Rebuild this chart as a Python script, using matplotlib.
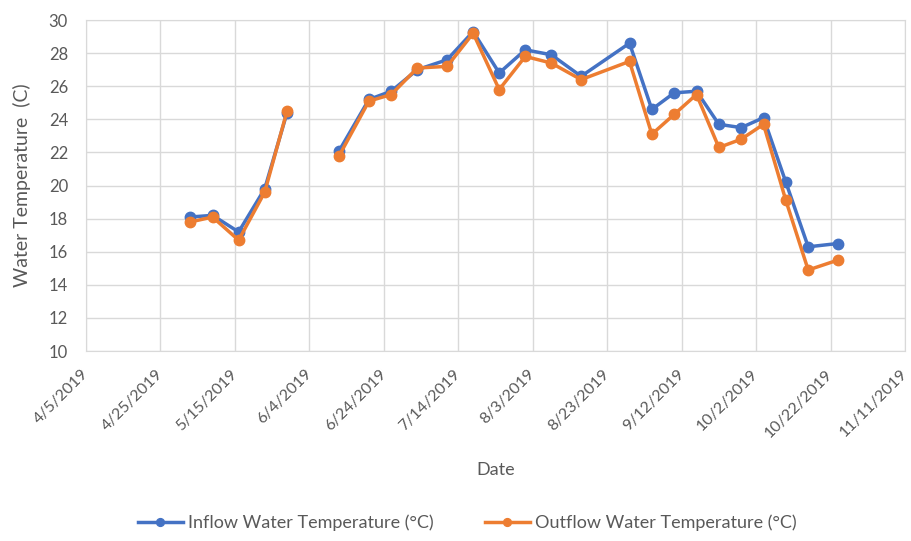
import numpy as np
import pandas as pd
import matplotlib
matplotlib.use("Agg")
import matplotlib.pyplot as plt
import matplotlib.transforms as mtransforms

plt.rcParams['font.family'] = ['Lato', 'DejaVu Sans']

# sample dates (the empty 6/5 row makes the gap in both lines)
dates = pd.to_datetime([
    '2019-05-03', '2019-05-09', '2019-05-16', '2019-05-23', '2019-05-29',
    '2019-06-05',
    '2019-06-12', '2019-06-20', '2019-06-26', '2019-07-03', '2019-07-11',
    '2019-07-18', '2019-07-25', '2019-08-01', '2019-08-08', '2019-08-16',
    '2019-08-29', '2019-09-04', '2019-09-10', '2019-09-16', '2019-09-22',
    '2019-09-28', '2019-10-04', '2019-10-10', '2019-10-16', '2019-10-24',
])
inflow = [18.1, 18.2, 17.2, 19.8, 24.4,
          np.nan,
          22.1, 25.2, 25.7, 27.0, 27.6,
          29.3, 26.8, 28.2, 27.9, 26.6,
          28.6, 24.6, 25.6, 25.7, 23.7,
          23.5, 24.1, 20.2, 16.3, 16.5]
outflow = [17.8, 18.1, 16.7, 19.6, 24.5,
           np.nan,
           21.8, 25.1, 25.5, 27.1, 27.2,
           29.2, 25.8, 27.8, 27.4, 26.4,
           27.5, 23.1, 24.3, 25.5, 22.3,
           22.8, 23.7, 19.1, 14.9, 15.5]

tick_dates = pd.date_range('2019-04-05', periods=12, freq='20D')
tick_labels = [f"{d.month}/{d.day}/{d.year}" for d in tick_dates]

blue = '#4472C4'
orange = '#ED7D31'
grey_text = '#595959'
grid_col = '#D9D9D9'

fig = plt.figure(figsize=(9.11, 5.41), dpi=100)
ax = fig.add_axes([0.0944, 0.351, 0.899, 0.612])

ax.plot(dates, inflow, color=blue, lw=2.5, marker='o', ms=7.5,
        label='Inflow Water Temperature (°C)', zorder=3)
ax.plot(dates, outflow, color=orange, lw=2.5, marker='o', ms=7.5,
        label='Outflow Water Temperature (°C)', zorder=4)

ax.set_ylim(10, 30)
ax.set_yticks(np.arange(10, 31, 2))
ax.set_xlim(tick_dates[0], tick_dates[-1])
ax.set_xticks(tick_dates)
ax.set_xticklabels(tick_labels, rotation=45, ha='right', va='center',
                   rotation_mode='anchor')
# nudge the rotated labels a little left so the last one stays inside
shift = mtransforms.ScaledTranslation(-4 / 100, 0, fig.dpi_scale_trans)
for lbl in ax.get_xticklabels():
    lbl.set_transform(lbl.get_transform() + shift)

ax.grid(True, color=grid_col, lw=1)
ax.set_axisbelow(True)
for s in ax.spines.values():
    s.set_color(grid_col)
ax.tick_params(length=0, colors=grey_text, labelsize=12)
ax.tick_params(axis='x', labelsize=11.5, pad=15)
ax.tick_params(axis='y', pad=13)

ax.set_ylabel('Water Temperature  (C)', color=grey_text, fontsize=14, labelpad=13)
ax.set_xlabel('Date', color=grey_text, fontsize=13, labelpad=16)

fig.legend(loc='lower center', bbox_to_anchor=(0.513, -0.012), ncol=2, frameon=False,
           fontsize=13, labelcolor=grey_text, handlelength=2.5, handletextpad=0.3,
           columnspacing=2.8, markerscale=0.75)

fig.savefig('out.png', dpi=100)
